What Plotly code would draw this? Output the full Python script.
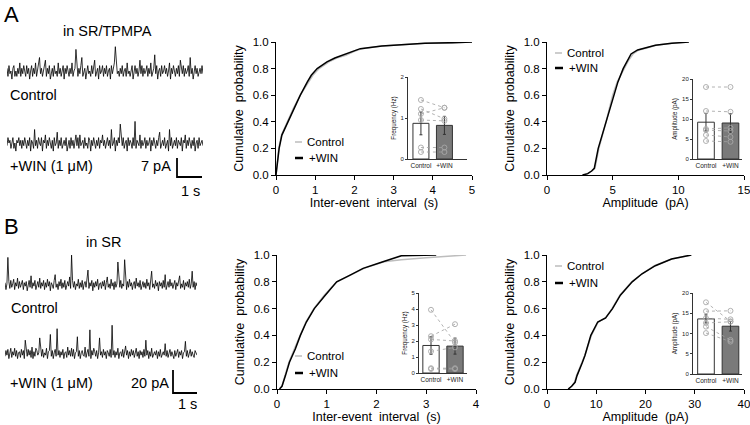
import numpy as np
import plotly.graph_objects as go

W, H = 750, 425
FONT = "Liberation Sans, Arial, sans-serif"

# ---------------- data ----------------
# example traces (pA, baseline 0), regularly sampled
A_CTRL_TRACE = [
 1,-2,2,-1,0,-3,1,2,-2,0,-2,1,-1,3,-2,1,-1,2,0,-2,
 2,-1,1,-3,0,2,-2,1,-1,3,-2,0,2,5,-1,1,-2,0,2,4,
 -2,1,-1,2,-3,0,1,-2,2,-1,0,-2,3,-1,1,-2,0,2,-3,1,
 -1,2,0,-2,1,-1,3,-2,0,1,8,3,-2,1,-1,2,5,-2,0,1,
 -3,1,2,-1,0,-2,2,-1,1,4,-2,0,1,-3,2,-1,0,2,-2,1,
 -1,2,-2,0,1,-3,2,-1,1,3,9,2,-1,0,-2,1,-1,2,-2,0,
 1,-2,3,-1,0,-2,1,2,-3,0,2,-1,1,-2,0,4,-1,2,-2,1,
 -1,0,2,-2,1,-1,3,-2,0,1,6,-1,2,-3,0,1,-2,2,-1,0,
 2,-1,1,-2,0,3,-3,1,-1,2,0,-2,1,-1,2,-2,4,0,-1,2,
 -2,1,-1,0,2,-2,5,-1,1,-3,0,2,-1,1,-2,0,1,-1,2,-1]
A_WIN_TRACE = [
 -1,2,0,1,-2,1,2,-2,0,-3,1,0,2,-1,1,-2,1,-1,2,0,
 -2,1,-1,2,-3,1,0,-2,5,-1,1,-2,2,0,-1,2,-3,1,0,3,
 -2,1,-1,2,0,-2,1,-3,2,-1,0,4,-2,1,-1,2,-2,0,1,-1,
 2,-3,0,1,-2,2,-1,1,-2,0,3,-1,2,-2,3,-1,0,1,-2,2,
 -1,0,-2,2,1,-3,1,-1,2,0,-2,1,-1,2,-2,1,0,3,-1,1,
 -2,0,2,-1,1,-2,5,-1,0,2,-3,1,-1,2,0,7,1,-1,2,-2,
 0,1,-3,2,-1,1,0,-2,2,-1,8,-2,1,0,-1,3,-2,1,-1,0,
 2,-2,1,-1,0,2,-3,1,-1,2,0,-2,1,-1,2,4,-2,0,1,-1,
 2,-2,0,1,-3,5,-1,2,-2,0,1,-1,2,-2,1,0,-1,2,-3,1,
 0,3,-2,1,-1,2,0,-2,1,-1,2,-3,0,1,-2,2,-1,0,1,-1]
B_CTRL_TRACE = [
 2,-4,1,24,3,-3,4,-2,1,5,-4,2,-1,6,-3,3,-2,1,4,-4,
 2,-1,3,-5,1,4,-2,8,-3,2,-1,4,-4,1,3,-2,6,-3,2,-1,
 4,-4,2,-2,5,-1,3,-5,2,0,-3,4,9,-2,1,-4,3,-1,5,-3,
 2,-2,4,-4,1,3,-1,7,-3,26,4,-2,3,-4,1,-1,5,-3,2,-2,
 4,-4,1,3,-2,6,13,-3,2,-1,4,-5,2,-2,3,-1,5,-4,1,2,
 -3,3,-1,4,-4,2,7,-2,1,-3,5,-1,2,-4,3,-2,1,20,3,-2,
 4,-3,1,-1,22,2,-4,3,-2,5,-1,2,-4,1,3,-3,6,-1,2,-2,
 4,-4,1,3,-2,2,-3,5,-1,2,-4,3,12,-2,1,-3,4,-1,2,-5,
 3,-1,2,-3,4,-2,9,-4,1,3,-2,5,-1,2,-3,1,4,-4,2,-1,
 3,8,-3,1,-2,4,-4,2,-1,3,-2,5,-3,1,12,-2,3,-4,2,-1]
B_WIN_TRACE = [
 -2,3,-1,4,-4,1,5,-3,2,-1,5,-2,3,-4,1,2,-3,4,-1,3,
 -4,12,1,-2,4,-1,3,-3,6,-4,2,-2,5,3,-1,1,14,2,-2,4,
 -3,1,-1,5,-4,2,3,17,-2,3,-4,1,4,-2,22,-1,3,-3,2,-1,
 4,-4,1,2,-3,6,-1,3,-2,5,-2,4,-4,1,2,15,-2,3,-4,1,
 3,-1,-2,6,-3,1,4,-2,21,-4,3,-1,5,2,-2,3,-4,1,14,-1,
 2,-3,4,-1,2,-4,3,1,-2,4,-3,25,-1,3,-3,2,-1,5,-4,1,
 2,-2,4,-3,1,7,-1,3,-4,2,-2,4,-1,3,-3,1,5,-2,2,-4,
 3,-1,2,-3,4,-2,12,-1,3,-4,2,-2,5,-3,1,2,-1,3,-4,2,
 -2,4,-3,1,2,-1,9,-2,3,-3,1,4,-2,2,-1,-4,3,-2,1,4,
 -3,2,-1,3,-4,1,2,11,-2,3,-3,1,4,-2,2,-1,-3,3,1,-1]
A_DURATION_S = 7.84
B_DURATION_S = 7.68
SCALE_A_PA, SCALE_A_S = 7, 1
SCALE_B_PA, SCALE_B_S = 20, 1

# cumulative distributions
A_IEI_PROB = [0.0,0.05,0.1,0.2,0.3,0.4,0.5,0.6,0.7,0.75,0.8,0.85,0.88,0.9,0.93,0.95,0.97,0.98,0.99,0.995,1.0]
A_IEI_WIN = [0.0,0.02,0.04,0.08,0.15,0.3,0.45,0.62,0.8,0.9,1.05,1.3,1.5,1.7,1.95,2.15,2.7,3.2,3.8,4.5,5.0]
A_IEI_CTRL = [0.0,0.02,0.04,0.07,0.14,0.28,0.44,0.62,0.82,0.94,1.1,1.35,1.55,1.78,2.0,2.2,2.7,3.2,3.8,4.5,5.0]

A_AMP_PROB = [0.0,0.01,0.03,0.05,0.2,0.3,0.4,0.5,0.6,0.7,0.8,0.86,0.91,0.94,0.955,0.975,0.99,1.0]
A_AMP_WIN = [2.7,3.1,3.4,3.6,3.9,4.2,4.45,4.8,5.1,5.4,5.8,6.1,6.4,6.9,7.5,8.25,9.5,10.8]
A_AMP_CTRL = [2.8,3.1,3.4,3.65,3.95,4.25,4.5,4.75,5.0,5.35,5.85,6.2,6.55,7.0,7.6,8.3,9.5,10.8]

B_IEI_WIN_PROB = [0.0,0.02,0.1,0.2,0.3,0.4,0.5,0.6,0.7,0.8,0.85,0.9,0.95,0.98,0.995,1.0]
B_IEI_WIN = [0.05,0.1,0.17,0.25,0.37,0.47,0.59,0.75,0.97,1.2,1.47,1.73,2.13,2.35,2.5,3.2]
B_IEI_CTRL_PROB = [0.0,0.02,0.1,0.2,0.3,0.4,0.5,0.6,0.7,0.8,0.85,0.9,0.95,0.965,0.98,0.99,1.0]
B_IEI_CTRL = [0.05,0.1,0.16,0.24,0.35,0.46,0.58,0.74,0.95,1.2,1.47,1.75,2.15,2.5,3.0,3.5,3.8]

B_AMP_PROB = [0.0,0.02,0.05,0.1,0.2,0.25,0.4,0.5,0.53,0.6,0.7,0.8,0.86,0.92,0.97,1.0]
B_AMP_WIN = [4.3,5.0,5.7,6.1,7.2,7.7,8.9,10.3,11.9,13.3,14.9,17.3,19.3,22.0,25.3,29.3]
B_AMP_CTRL = [4.4,5.0,5.6,6.0,7.1,7.7,9.0,10.4,11.9,13.2,14.8,17.2,19.3,21.8,25.3,29.3]

# insets: mean, SEM, paired cells
GROUPS = ["Control", "+WIN"]
A_FREQ_MEAN, A_FREQ_SEM = [0.87, 0.82], [0.28, 0.22]
A_FREQ_CTRL = [1.44, 1.22, 1.10, 0.95, 0.28, 0.17]
A_FREQ_WIN = [1.25, 0.98, 1.25, 0.93, 0.28, 0.17]
A_AMPI_MEAN, A_AMPI_SEM = [9.2, 9.0], [2.2, 2.3]
A_AMPI_CTRL = [18.0, 12.0, 7.5, 7.2, 6.0, 4.5]
A_AMPI_WIN = [18.0, 11.8, 7.8, 7.0, 5.5, 4.3]
B_FREQ_MEAN, B_FREQ_SEM = [1.72, 1.68], [0.55, 0.5]
B_FREQ_CTRL = [3.95, 2.3, 2.1, 1.35, 0.3, 0.25]
B_FREQ_WIN = [1.9, 3.05, 2.0, 1.6, 0.3, 0.25]
B_AMPI_MEAN, B_AMPI_SEM = [13.6, 11.8], [1.0, 1.2]
B_AMPI_CTRL = [17.7, 15.5, 13.8, 12.6, 11.7, 10.1]
B_AMPI_WIN = [13.0, 15.6, 13.5, 12.9, 8.4, 8.0]

# ---------------- layout helpers ----------------
def dx(l, r):
    return [l / W, r / W]

def dy(top, bottom):
    return [1 - bottom / H, 1 - top / H]

fig = go.Figure()
layout = {}

def key(kind, i):
    return kind if i == 1 else f"{kind}{i}"

def ax(i):
    return ("x" if i == 1 else f"x{i}"), ("y" if i == 1 else f"y{i}")

def main_axes(i, xdom, ydom, xrange, xdtick, xtitle):
    xa, ya = ax(i)
    layout[key("xaxis", i)] = dict(domain=xdom, range=xrange, dtick=xdtick, anchor=ya,
        showline=True, linecolor="black", linewidth=1, ticks="outside", ticklen=4,
        tickcolor="black", showgrid=False, zeroline=False, ticklabeloverflow="allow",
        tickfont=dict(size=11.5, family=FONT, color="black"),
        title=dict(text=xtitle, font=dict(size=12.5, family=FONT, color="black"), standoff=3))
    layout[key("yaxis", i)] = dict(domain=ydom, range=[0, 1], dtick=0.2, tickformat=".1f",
        anchor=xa, showline=True, linecolor="black", linewidth=1, ticks="outside",
        ticklen=4, tickcolor="black", showgrid=False, zeroline=False,
        tickfont=dict(size=11.5, family=FONT, color="black"),
        title=dict(text="Cumulative\u00a0 probability", font=dict(size=12.5, family=FONT, color="black"), standoff=6))

def inset_axes(i, xdom, ydom, xrange, yrange, ydtick, ytitle):
    xa, ya = ax(i)
    layout[key("xaxis", i)] = dict(domain=xdom, range=xrange, anchor=ya, showline=True,
        linecolor="#333", linewidth=1, ticks="", tickvals=[1, 2], ticktext=GROUPS,
        showgrid=False, zeroline=False, tickfont=dict(size=6.5, family=FONT, color="#222"))
    layout[key("yaxis", i)] = dict(domain=ydom, range=yrange, dtick=ydtick, anchor=xa,
        showline=True, linecolor="#333", linewidth=1, ticks="outside", ticklen=2,
        tickcolor="#333", showgrid=False, zeroline=False,
        tickfont=dict(size=6, family=FONT, color="#222"),
        title=dict(text=ytitle, font=dict(size=6.3, family=FONT, color="#222"), standoff=3))

def hidden_axes(i, xdom, ydom, xrange, yrange):
    xa, ya = ax(i)
    layout[key("xaxis", i)] = dict(domain=xdom, range=xrange, anchor=ya, visible=False)
    layout[key("yaxis", i)] = dict(domain=ydom, range=yrange, anchor=xa, visible=False)

# main cumulative plots
main_axes(1, dx(276, 472), dy(42, 175), [0, 5], 1, "Inter-event\u00a0 interval\u00a0 (s)")
main_axes(2, dx(547, 744), dy(42, 175), [0, 15], 5, "Amplitude\u00a0 (pA)")
main_axes(3, dx(277, 476), dy(255, 389), [0, 4], 1, "Inter-event\u00a0 interval\u00a0 (s)")
main_axes(4, dx(547, 744), dy(255, 389), [0, 40], 10, "Amplitude\u00a0 (pA)")

# insets
inset_axes(5, dx(408, 467), dy(77, 159), [0.45, 2.96], [0, 2], 1, "Frequency (Hz)")
inset_axes(6, dx(693, 742), dy(79, 159), [0.47, 2.47], [0, 20], 5, "Amplitude (pA)")
inset_axes(7, dx(419, 467), dy(293, 373), [0.5, 2.5], [0, 5], 1, "Frequency (Hz)")
inset_axes(8, dx(693, 742), dy(293, 374), [0.47, 2.47], [0, 20], 5, "Amplitude (pA)")

# traces (2.7 px/pA in A, 1.15 px/pA in B)
A_PXPA, B_PXPA = 2.7, 1.15
hidden_axes(9, dx(7, 203), dy(71 - 10 * A_PXPA, 71 + 4 * A_PXPA), [0, A_DURATION_S], [-4, 10])
hidden_axes(10, dx(7, 203), dy(143 - 10 * A_PXPA, 143 + 14 * A_PXPA), [0, A_DURATION_S], [-14, 10])
hidden_axes(11, dx(5, 197), dy(285 - 28 * B_PXPA, 285 + 6 * B_PXPA), [0, B_DURATION_S], [-6, 28])
hidden_axes(12, dx(5, 197), dy(354 - 28 * B_PXPA, 354 + 36 * B_PXPA), [0, B_DURATION_S], [-36, 28])

GRAY = "#bdbdbd"

def cdf(i, xc, yc, xw, yw):
    xa, ya = ax(i)
    fig.add_trace(go.Scatter(x=xc, y=yc, mode="lines", line=dict(color=GRAY, width=1.5),
                             xaxis=xa, yaxis=ya, showlegend=False, hoverinfo="skip"))
    fig.add_trace(go.Scatter(x=xw, y=yw, mode="lines", line=dict(color="black", width=1.5),
                             xaxis=xa, yaxis=ya, showlegend=False, hoverinfo="skip"))

cdf(1, A_IEI_CTRL, A_IEI_PROB, A_IEI_WIN, A_IEI_PROB)
cdf(2, A_AMP_CTRL, A_AMP_PROB, A_AMP_WIN, A_AMP_PROB)
cdf(3, B_IEI_CTRL, B_IEI_CTRL_PROB, B_IEI_WIN, B_IEI_WIN_PROB)
cdf(4, B_AMP_CTRL, B_AMP_PROB, B_AMP_WIN, B_AMP_PROB)

def inset(i, mean, sem, ctrl, win, ns_line, ns_text):
    xa, ya = ax(i)
    fig.add_trace(go.Bar(x=[1, 2], y=mean, width=0.68,
                         marker=dict(color=["white", "#7a7a7a"], line=dict(color="#333", width=1)),
                         error_y=dict(type="data", array=sem, color="#333", thickness=1, width=1.5),
                         xaxis=xa, yaxis=ya, showlegend=False, hoverinfo="skip"))
    px, py = [], []
    for c, w in zip(ctrl, win):
        px += [1, 2, None]
        py += [c, w, None]
    fig.add_trace(go.Scatter(x=px, y=py, mode="lines+markers",
                             line=dict(color="#a0a0a0", width=0.8, dash="dot"),
                             marker=dict(symbol="circle-open", size=5, color="#a8a8a8",
                                         line=dict(width=0.9, color="#a8a8a8")),
                             xaxis=xa, yaxis=ya, showlegend=False, hoverinfo="skip", connectgaps=False))
    fig.add_annotation(x=2, y=ns_line, ax=1, ay=ns_line, xref=xa, yref=ya, axref=xa, ayref=ya,
                       text="", showarrow=True, arrowhead=0, arrowwidth=1.4, arrowcolor="#555",
                       standoff=0, startstandoff=0)
    fig.add_annotation(x=1.5, y=ns_text, xref=xa, yref=ya, text="ns", showarrow=False,
                       font=dict(size=6.5, family=FONT, color="#333"))

inset(5, A_FREQ_MEAN, A_FREQ_SEM, A_FREQ_CTRL, A_FREQ_WIN, 2.1, 2.25)
inset(6, A_AMPI_MEAN, A_AMPI_SEM, A_AMPI_CTRL, A_AMPI_WIN, 21.25, 22.6)
inset(7, B_FREQ_MEAN, B_FREQ_SEM, B_FREQ_CTRL, B_FREQ_WIN, 5.44, 5.85)
inset(8, B_AMPI_MEAN, B_AMPI_SEM, B_AMPI_CTRL, B_AMPI_WIN, 21.7, 23.3)

def trace(i, values, duration):
    xa, ya = ax(i)
    t = np.linspace(0, duration, len(values))
    fig.add_trace(go.Scatter(x=t, y=values, mode="lines", line=dict(color="black", width=0.8),
                             xaxis=xa, yaxis=ya, showlegend=False, hoverinfo="skip"))

trace(9, A_CTRL_TRACE, A_DURATION_S)
trace(10, A_WIN_TRACE, A_DURATION_S)
trace(11, B_CTRL_TRACE, B_DURATION_S)
trace(12, B_WIN_TRACE, B_DURATION_S)

def scale_bar(i, cx, cy, pa, s):
    xa, ya = ax(i)
    fig.add_trace(go.Scatter(x=[cx, cx, cx + s], y=[cy + pa, cy, cy], mode="lines",
                             line=dict(color="black", width=1.8),
                             xaxis=xa, yaxis=ya, showlegend=False, hoverinfo="skip", cliponaxis=False))

scale_bar(10, (177 - 7) / 25, -(177 - 143) / A_PXPA, SCALE_A_PA, SCALE_A_S)
scale_bar(12, (173 - 5) / 25, -(393 - 354) / B_PXPA, SCALE_B_PA, SCALE_B_S)

def text(t, x, y, size, xanchor="left"):
    fig.add_annotation(text=t, x=x / W, y=1 - y / H, xref="paper", yref="paper", showarrow=False,
                       xanchor=xanchor, yanchor="middle", borderpad=0,
                       font=dict(size=size, family=FONT, color="black"))

text("A", 3, 15, 22)
text("B", 3, 227, 22)
text("in SR/TPMPA", 108, 31, 14.5, "center")
text("Control", 9, 95, 14.5)
text("+WIN (1 μM)", 9, 166, 14.5)
text("7 pA", 172, 166, 14.5, "right")
text("1 s", 190, 191, 14.5, "center")
text("in SR", 103, 242, 14.5, "center")
text("Control", 10, 308, 14.5)
text("+WIN (1 μM)", 9, 383, 14.5)
text("20 pA", 170, 383, 14.5, "right")
text("1 s", 187, 404, 14.5, "center")

shapes = []
def legend(x0, yc, yw):
    shapes.append(dict(type="line", xref="paper", yref="paper", x0=x0 / W, x1=(x0 + 7) / W,
                       y0=1 - yc / H, y1=1 - yc / H, line=dict(color=GRAY, width=1.5)))
    shapes.append(dict(type="line", xref="paper", yref="paper", x0=x0 / W, x1=(x0 + 8) / W,
                       y0=1 - yw / H, y1=1 - yw / H, line=dict(color="black", width=2.5)))
    text("Control", x0 + 11, yc, 11.5)
    text("+WIN", x0 + 13, yw, 11.5)

legend(295, 142, 158)
legend(555, 53, 68)
legend(295, 356, 373)
legend(555, 266, 283)

fig.update_layout(**layout)
fig.update_layout(width=W, height=H, margin=dict(l=0, r=0, t=0, b=0),
                  paper_bgcolor="white", plot_bgcolor="rgba(0,0,0,0)",
                  template="none", shapes=shapes, barmode="overlay",
                  font=dict(family=FONT, color="black"))

fig.write_html("out.html", config={"displayModeBar": False},
               post_script="document.body.style.margin='0';document.body.style.overflow='hidden';")
